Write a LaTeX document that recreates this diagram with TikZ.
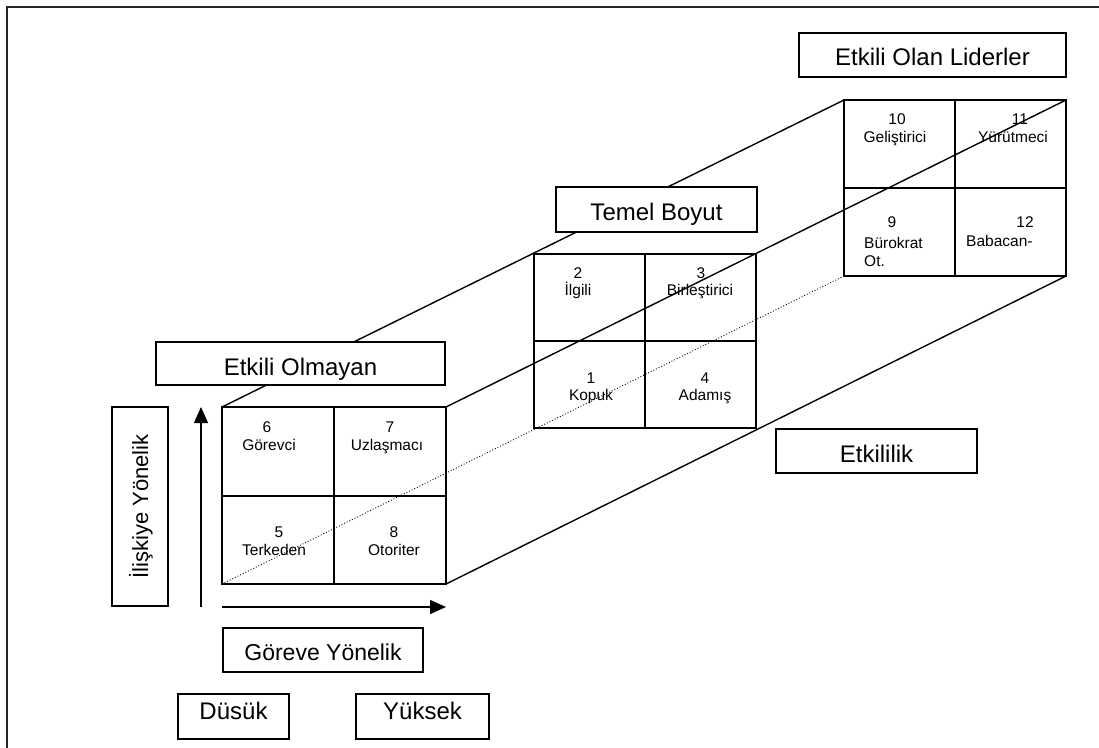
\documentclass[tikz,border=0pt]{standalone}
\usepackage{fontspec}
\setmainfont{Liberation Sans}
\usetikzlibrary{arrows.meta}

\begin{document}
\begin{tikzpicture}[x=1pt,y=-1pt,
  sq/.style={draw, line width=2pt, inner sep=0pt, outer sep=0pt, anchor=north west},
  divider/.style={line width=2pt},
  lbl/.style={draw, fill=white, line width=1.8pt, inner sep=0pt, text depth=0pt,
              text height=#1, font=\fontsize{24}{28}\selectfont},
  lbl/.default=23pt,
  edge/.style={line width=1.4pt},
  hidden/.style={dotted, line width=0.9pt},
  cellfont/.style={inner sep=0pt, font=\fontsize{15.5}{18}\selectfont},
  cell/.style={cellfont, text height=11pt, text depth=0pt},
  axis/.style={line width=1.4pt, -{Triangle[length=16pt,width=14pt]}}]

\useasboundingbox (0,0) rectangle (1099,747);

% page frame
\draw[line width=2pt, black!85] (7,770) -- (7,7) -- (1120,7);

% the three cross-sections of the block
\node[sq, minimum width=224pt, minimum height=177pt] (f) at (222,407) {};
\node[sq, minimum width=222pt, minimum height=174pt] (m) at (534,254) {};
\node[sq, minimum width=222pt, minimum height=176pt] (r) at (844,100) {};
\foreach \s in {f,m,r}{
  \draw[divider] (\s.north) -- (\s.south);
  \draw[divider] (\s.west) -- (\s.east);
}

% front face: ineffective styles
\node[cell] (n6) at (267,427) {6};
\node[cell] (w6) at (269,445) {Görevci};
\node[cell] (n7) at (390,427) {7};
\node[cell] (w7) at (387,445) {Uzlaşmacı};
\node[cell] (n5) at (279,532) {5};
\node[cell] (w5) at (274,550) {Terkeden};
\node[cell] (n8) at (394,532) {8};
\node[cell] (w8) at (394,550) {Otoriter};

% middle section: basic styles
\node[cell] (n2) at (578,273) {2};
\node[cell] (w2) at (578,290) {İlgili};
\node[cell] (n3) at (701,273) {3};
\node[cell] (w3) at (700,290) {Birleştirici};
\node[cell] (n1) at (591,378) {1};
\node[cell] (w1) at (591,395) {Kopuk};
\node[cell] (n4) at (705,378) {4};
\node[cell] (w4) at (705,395) {Adamış};

% back section: effective styles
\node[cell] (n10) at (897,119) {10};
\node[cell] (w10) at (895,137) {Geliştirici};
\node[cell] (n11) at (1020,119) {11};
\node[cell] (w11) at (1013,137) {Yürütmeci};
\node[cell] (n9) at (892,222) {9};
\node[cellfont, align=left, anchor=west] (w9) at (864,252) {Bürokrat\\Ot.};
\node[cell] (n12) at (1025,222) {12};
\node[cell, anchor=west] (w12) at (966,241) {Babacan-};

% block edges
\draw[edge] (f.north west) -- (r.north west);
\draw[edge] (f.north east) -- (r.north east);
\draw[edge] (f.south east) -- (r.south east);
\draw[hidden] (f.south west) -- (r.south west);

% axes
\coordinate (vb) at (201,607);
\coordinate (vt) at (201,407);
\coordinate (hb) at (222,607);
\coordinate (ht) at (446,607);
\draw[axis] (vb) -- (vt);
\draw[axis] (hb) -- (ht);

% labels
\node[lbl, minimum width=289pt, minimum height=43pt] (eo) at (300.5,363.5) {Etkili Olmayan};
\node[lbl=22.5pt, minimum width=201pt, minimum height=45pt] (tb) at (656.5,209.5) {Temel Boyut};
\node[lbl=20pt, minimum width=267pt, minimum height=44pt] (el) at (932.5,55) {Etkili Olan Liderler};
\node[lbl, minimum width=201pt, minimum height=44pt] (ek) at (876.5,451) {Etkililik};
\node[lbl=20pt, minimum width=200pt, minimum height=44pt, font=\fontsize{23}{27}\selectfont] (gy) at (323,650) {Göreve Yönelik};
\node[lbl=16pt, minimum width=199pt, minimum height=56pt, rotate=90, font=\fontsize{22}{26}\selectfont] (iy) at (140,506.5) {İlişkiye Yönelik};
\node[lbl=5pt, minimum width=111pt, minimum height=45pt] (du) at (233.5,716.5) {Düsük};
\node[lbl=5pt, minimum width=133pt, minimum height=45pt] (yu) at (422.5,716.5) {Yüksek};
\end{tikzpicture}
\end{document}
